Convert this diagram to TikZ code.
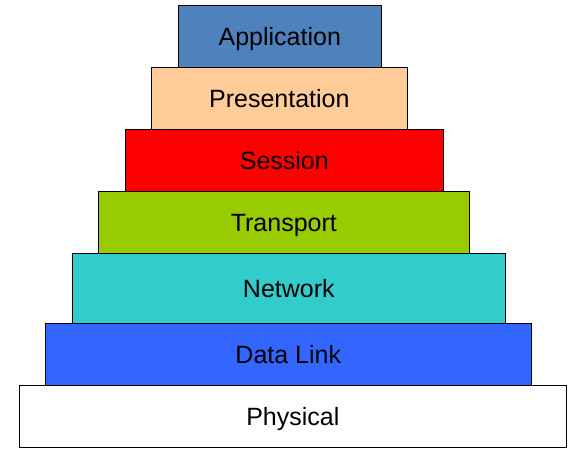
\documentclass[tikz,border=0pt]{standalone}
\usepackage{fontspec}
\setmainfont{Liberation Sans}
\definecolor{appc}{HTML}{4F81BD}
\definecolor{presc}{HTML}{FFCC99}
\definecolor{sessc}{HTML}{FF0000}
\definecolor{tranc}{HTML}{99CC00}
\definecolor{netc}{HTML}{33CCCC}
\definecolor{dlc}{HTML}{3366FF}
\begin{document}
\begin{tikzpicture}[x=1pt,y=-1pt,
  layer/.style={draw=black, line width=1pt, rectangle, inner sep=0pt, outer sep=0pt,
    font=\fontsize{25}{30}\selectfont, text height=18pt, text depth=0pt}]
\useasboundingbox (0,0) rectangle (577,455);
\node[layer, fill=appc, minimum width=203pt, minimum height=62pt] (app) at (279.8,36.3) {Application};
\node[layer, fill=presc, minimum width=256pt, minimum height=62pt] (pres) at (279.3,98.3) {Presentation};
\node[layer, fill=sessc, minimum width=318pt, minimum height=62pt] (sess) at (284.3,160.3) {Session};
\node[layer, fill=tranc, minimum width=371pt, minimum height=62pt] (tran) at (283.8,222.3) {Transport};
\node[layer, fill=netc, minimum width=433pt, minimum height=70pt] (net) at (288.8,288.3) {Network};
\node[layer, fill=dlc, minimum width=486pt, minimum height=62pt] (dl) at (288.3,354.3) {Data Link};
\node[layer, fill=white, minimum width=547pt, minimum height=62pt] (phys) at (292.8,416.3) {Physical};
\end{tikzpicture}
\end{document}
